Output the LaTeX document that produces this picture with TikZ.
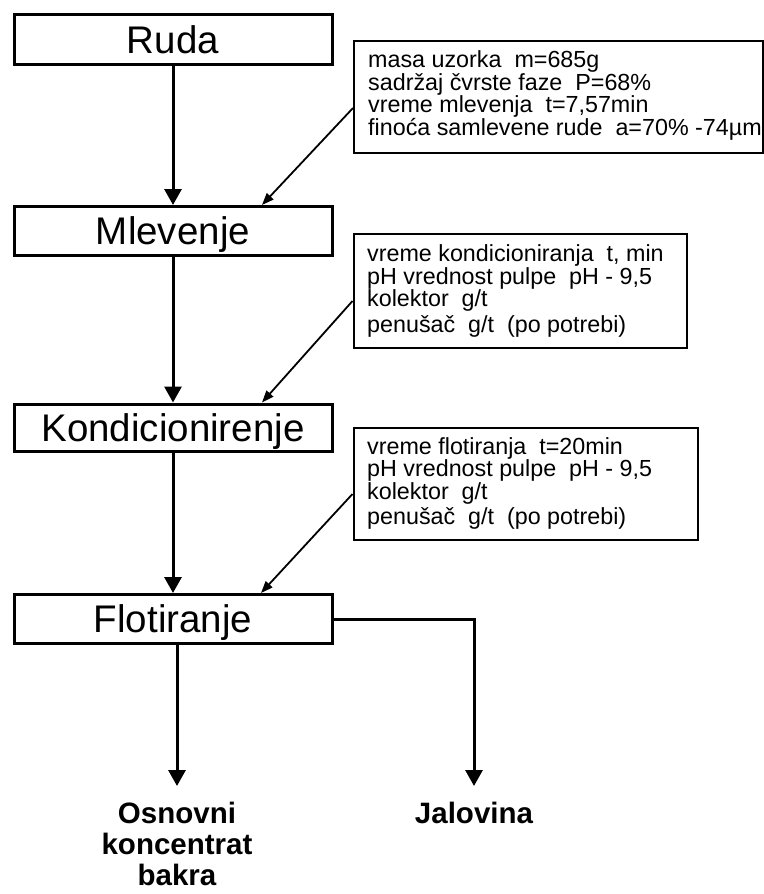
\documentclass[tikz,border=0pt]{standalone}
\usepackage{fontspec}
\setmainfont{Liberation Sans}
\usetikzlibrary{arrows.meta}
\begin{document}
\begin{tikzpicture}[x=1pt,y=-1pt,
  mainbox/.style={draw, line width=3pt, minimum width=318pt, minimum height=49pt,
    inner sep=0pt, text height=27.6pt, text depth=0pt, font=\fontsize{38.5}{40}\selectfont},
  pbox/.style={draw, line width=2pt, anchor=north west, inner sep=0pt},
  ptext/.style={anchor=north west, inner sep=0pt, align=left, font=\fontsize{23.3}{22.7}\selectfont},
  flow/.style={line width=3pt, -{Triangle[length=16pt,width=17pt]}},
  feed/.style={line width=1.8pt, -{Triangle[length=12pt,width=9pt]}},
  outtext/.style={anchor=north, inner sep=0pt, align=center, font=\bfseries\fontsize{29.5}{31}\selectfont}
]
\useasboundingbox[fill=white] (0,0) rectangle (763,894);

% main process boxes
\node[mainbox, minimum height=50pt] (ruda) at (173,39.5) {Ruda};
\node[mainbox] (mlev) at (173,231) {Mlevenje};
\node[mainbox, minimum height=47pt] (kond) at (173,427.5) {Kondicionirenje};
\node[mainbox] (flot) at (173,619) {Flotiranje};

% parameter boxes
\node[pbox, minimum width=409pt, minimum height=112pt] (p1) at (353,40) {};
\node[ptext] (p1t) at (368,50.5) {masa uzorka\ \ m=685g\\
sadržaj čvrste faze\ \ P=68\%\\
vreme mlevenja\ \ t=7,57min\\
finoća samlevene rude\ \ a=70\% -74µm};

\node[pbox, minimum width=333pt, minimum height=114pt] (p2) at (352.5,233) {};
\node[ptext] (p2t) at (367,244.5) {vreme kondicioniranja\ \ t, min\\
pH vrednost pulpe\ \ pH - 9,5\\
kolektor\ \ g/t\\[2.5pt]
penušač\ \ g/t\ \ (po potrebi)};

\node[pbox, minimum width=344pt, minimum height=112pt] (p3) at (352.5,427) {};
\node[ptext] (p3t) at (367,437) {vreme flotiranja\ \ t=20min\\
pH vrednost pulpe\ \ pH - 9,5\\
kolektor\ \ g/t\\[2.5pt]
penušač\ \ g/t\ \ (po potrebi)};

% outputs
\node[outtext] (osn) at (177,802) {Osnovni\\koncentrat\\bakra};
\node[outtext] (jal) at (474,802) {Jalovina};

% main flow
\draw[flow] (ruda) -- (mlev);
\draw[flow] (mlev) -- (kond);
\draw[flow] (kond) -- (flot);
\draw[flow, shorten >=16pt] (flot.south -| osn.north) -- (osn.north);
\draw[flow, shorten >=16pt] (flot.east) -| (jal.north);

% feeds from parameter boxes
\draw[feed] ([yshift=46pt]p1.south west) -- ([xshift=89pt]mlev.north);
\draw[feed] ([yshift=48pt]p2.south west) -- ([xshift=89pt]kond.north);
\draw[feed] ([yshift=47pt]p3.south west) -- ([xshift=88pt]flot.north);
\end{tikzpicture}
\end{document}
